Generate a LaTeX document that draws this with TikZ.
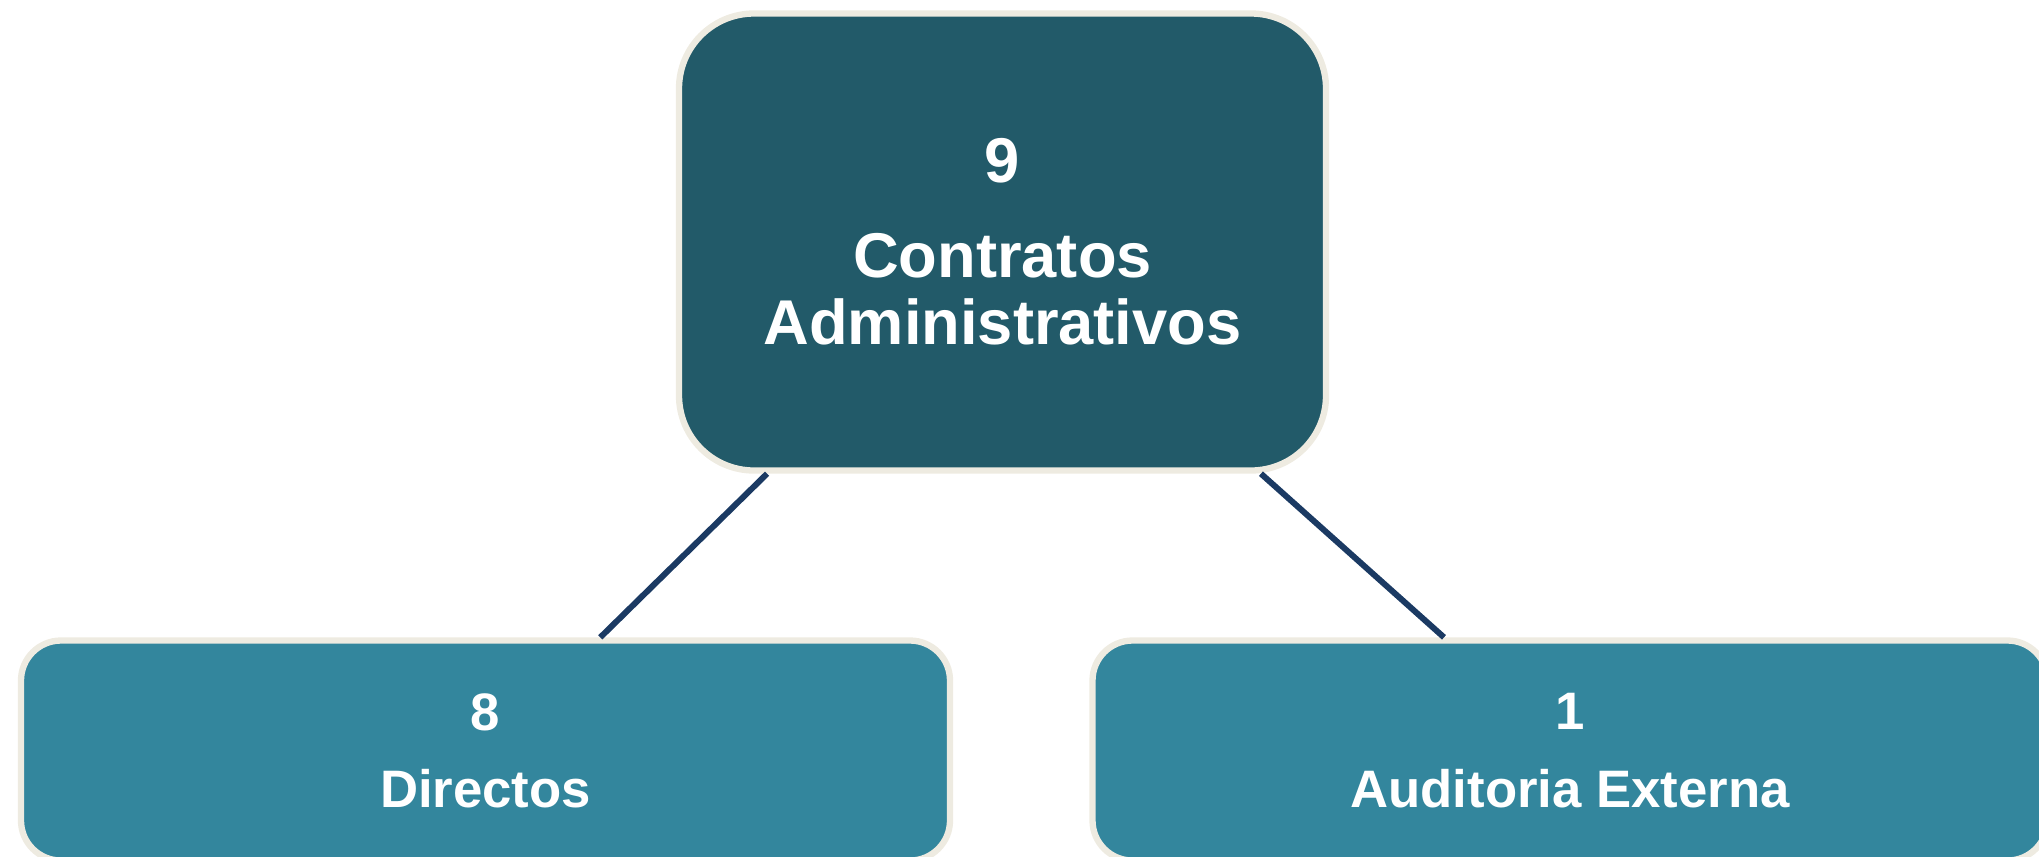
\documentclass[tikz,border=0pt]{standalone}
\usepackage{fontspec}
\setmainfont{Liberation Sans}
\definecolor{topfill}{HTML}{225A69}
\definecolor{leaffill}{HTML}{33869D}
\definecolor{rimcol}{HTML}{EEEBE1}
\definecolor{linkcol}{HTML}{1B3A63}
\begin{document}
\begin{tikzpicture}[
  topbox/.style={draw=rimcol, line width=1.8pt, fill=topfill, rounded corners=0.75cm,
    minimum width=6.47cm, minimum height=4.57cm, text=white, align=center,
    font=\fontsize{18}{19}\selectfont\bfseries},
  leafbox/.style={draw=rimcol, line width=1.8pt, fill=leaffill, rounded corners=0.4cm,
    minimum width=9.29cm, minimum height=2.20cm, text=white, align=center,
    font=\fontsize{15}{16}\selectfont\bfseries},
  link/.style={draw=linkcol, line width=1.7pt}]
  \useasboundingbox (0,0) rectangle (20.39,8.56);
  \clip (0,0) rectangle (20.39,8.56);
  \node[topbox] (total) at (10.025,6.14) {9\\[8pt]Contratos\\Administrativos};
  \node[leafbox] (directos) at (4.855,1.055) {8\\[6pt]Directos};
  \node[leafbox, minimum width=9.55cm] (auditoria) at (15.7,1.055) {1\\[6pt]Auditoria Externa};
  \draw[link] (total) -- (directos);
  \draw[link] (total) -- (auditoria);
\end{tikzpicture}
\end{document}
